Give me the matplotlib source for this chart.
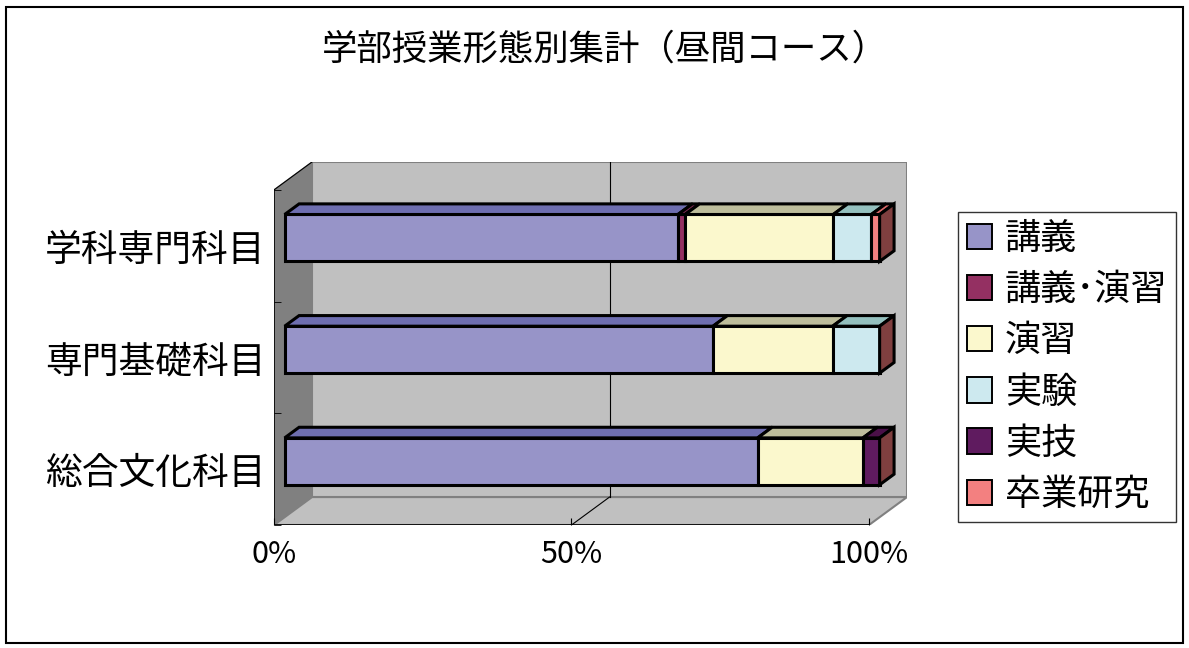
import matplotlib.pyplot as plt
from matplotlib.patches import Polygon, Rectangle, Patch

plt.rcParams['font.family'] = ['Noto Sans CJK JP', 'DejaVu Sans']

# categories from bottom to top
categories = ['総合文化科目', '専門基礎科目', '学科専門科目']
series_names = ['講義', '講義･演習', '演習', '実験', '実技', '卒業研究']

# share of each class type (%), same order as categories
lecture = [79.5, 72.0, 66.1]
lecture_seminar = [0.0, 0.0, 1.2]
seminar = [17.7, 20.1, 24.9]
experiment = [0.0, 7.9, 6.4]
practical = [2.8, 0.0, 0.0]
thesis = [0.0, 0.0, 1.4]
series_values = [lecture, lecture_seminar, seminar, experiment, practical, thesis]

x_ticks = [0, 50, 100]
x_tick_labels = ['0%', '50%', '100%']

front_colors = ['#9794c8', '#943062', '#fbf8cd', '#cde9ef', '#5f1b5f', '#f38080']
top_colors = ['#6e6eb0', '#7a2850', '#bdbd9b', '#94c0be', '#4a1048', '#d86868']
end_color = '#7f3f3f'

W, H = 1189, 648
fig = plt.figure(figsize=(W / 100, H / 100), dpi=100)

# 3D look: offsets for full depth of the plot box, in data units
DX, DY = 6.39, 0.25
n = len(categories)
ax = fig.add_axes([274 / W, 123 / H, (907 - 274) / W, (486 - 123) / H])
ax.set_xlim(0, 100 + DX)
ax.set_ylim(-0.5, n - 0.5 + DY)
for s in ax.spines.values():
    s.set_visible(False)

y_lo, y_hi = -0.5, n - 0.5
# walls and floor
ax.add_patch(Polygon([(0, y_lo), (DX, y_lo + DY), (DX, y_hi + DY), (0, y_hi)],
                     closed=True, fc='#808080', ec='#808080', lw=1, zorder=0))
ax.add_patch(Rectangle((DX, y_lo + DY), 100, y_hi - y_lo, fc='#c0c0c0', ec='#808080', lw=1.5, zorder=0))
ax.add_patch(Polygon([(0, y_lo), (100, y_lo), (100 + DX, y_lo + DY), (DX, y_lo + DY)],
                     closed=True, fc='#c0c0c0', ec='#808080', lw=1.5, zorder=0))
ax.plot([0, 100], [y_lo, y_lo], color='black', lw=1.2, zorder=1)
ax.plot([0, 0], [y_lo, y_hi], color='black', lw=1.2, zorder=1)
ax.plot([0, DX], [y_hi, y_hi + DY], color='black', lw=0.8, zorder=1)
for xt in x_ticks[1:-1]:
    ax.plot([xt + DX, xt + DX], [y_lo + DY, y_hi + DY], color='black', lw=0.8, zorder=1)
    ax.plot([xt, xt + DX], [y_lo, y_lo + DY], color='black', lw=0.8, zorder=1)

# stacked bars
d0, d1 = 0.28, 0.66
bar_h = 0.42
lw_bar = 2.2
lefts = [0.0] * n
for vals, fc, tc in zip(series_values, front_colors, top_colors):
    for i, v in enumerate(vals):
        if v <= 0:
            continue
        l, r = lefts[i], lefts[i] + v
        ax.barh(i + d0 * DY, v, left=l + d0 * DX, height=bar_h,
                color=fc, edgecolor='black', lw=lw_bar, zorder=3)
        yt0 = i + d0 * DY + bar_h / 2
        yt1 = i + d1 * DY + bar_h / 2
        ax.add_patch(Polygon([(l + d0 * DX, yt0), (r + d0 * DX, yt0), (r + d1 * DX, yt1), (l + d1 * DX, yt1)],
                             closed=True, fc=tc, ec='black', lw=lw_bar, zorder=3))
    lefts = [a + b for a, b in zip(lefts, vals)]

for i, total in enumerate(lefts):
    yb0 = i + d0 * DY - bar_h / 2
    yb1 = i + d1 * DY - bar_h / 2
    ax.add_patch(Polygon([(total + d0 * DX, yb0), (total + d0 * DX, yb0 + bar_h),
                          (total + d1 * DX, yb1 + bar_h), (total + d1 * DX, yb1)],
                         closed=True, fc=end_color, ec='black', lw=lw_bar, zorder=3))

ax.set_yticks(range(n))
ax.set_yticklabels(categories, fontsize=26.5)
ax.set_yticks([k + 0.5 for k in range(-1, n)], minor=True)
ax.set_xticks(x_ticks)
ax.set_xticklabels(x_tick_labels, fontsize=22)
ax.tick_params(axis='y', which='major', length=0, pad=6)
ax.tick_params(axis='y', which='minor', direction='in', length=5, color='black')
ax.tick_params(axis='x', direction='in', length=5, pad=10)

handles = [Patch(facecolor=c, edgecolor='black', lw=1.4) for c in front_colors]
leg = fig.legend(handles, series_names, loc='upper left',
                 bbox_to_anchor=(958 / W, 1 - 212 / H), fontsize=26,
                 frameon=True, fancybox=False, edgecolor='black',
                 handlelength=0.7, handleheight=0.7, handletextpad=0.35,
                 labelspacing=0.42, borderpad=0.25, borderaxespad=0)
leg.get_frame().set_linewidth(1.0)

fig.text(605 / W, 1 - 50 / H, '学部授業形態別集計（昼間コース）', ha='center', va='center', fontsize=25.5)

fig.patches.append(Rectangle((6 / W, 5 / H), (1183 - 6) / W, (641 - 5) / H,
                             transform=fig.transFigure, fill=False, ec='black', lw=1.5))

fig.savefig('out.png', dpi=100)
